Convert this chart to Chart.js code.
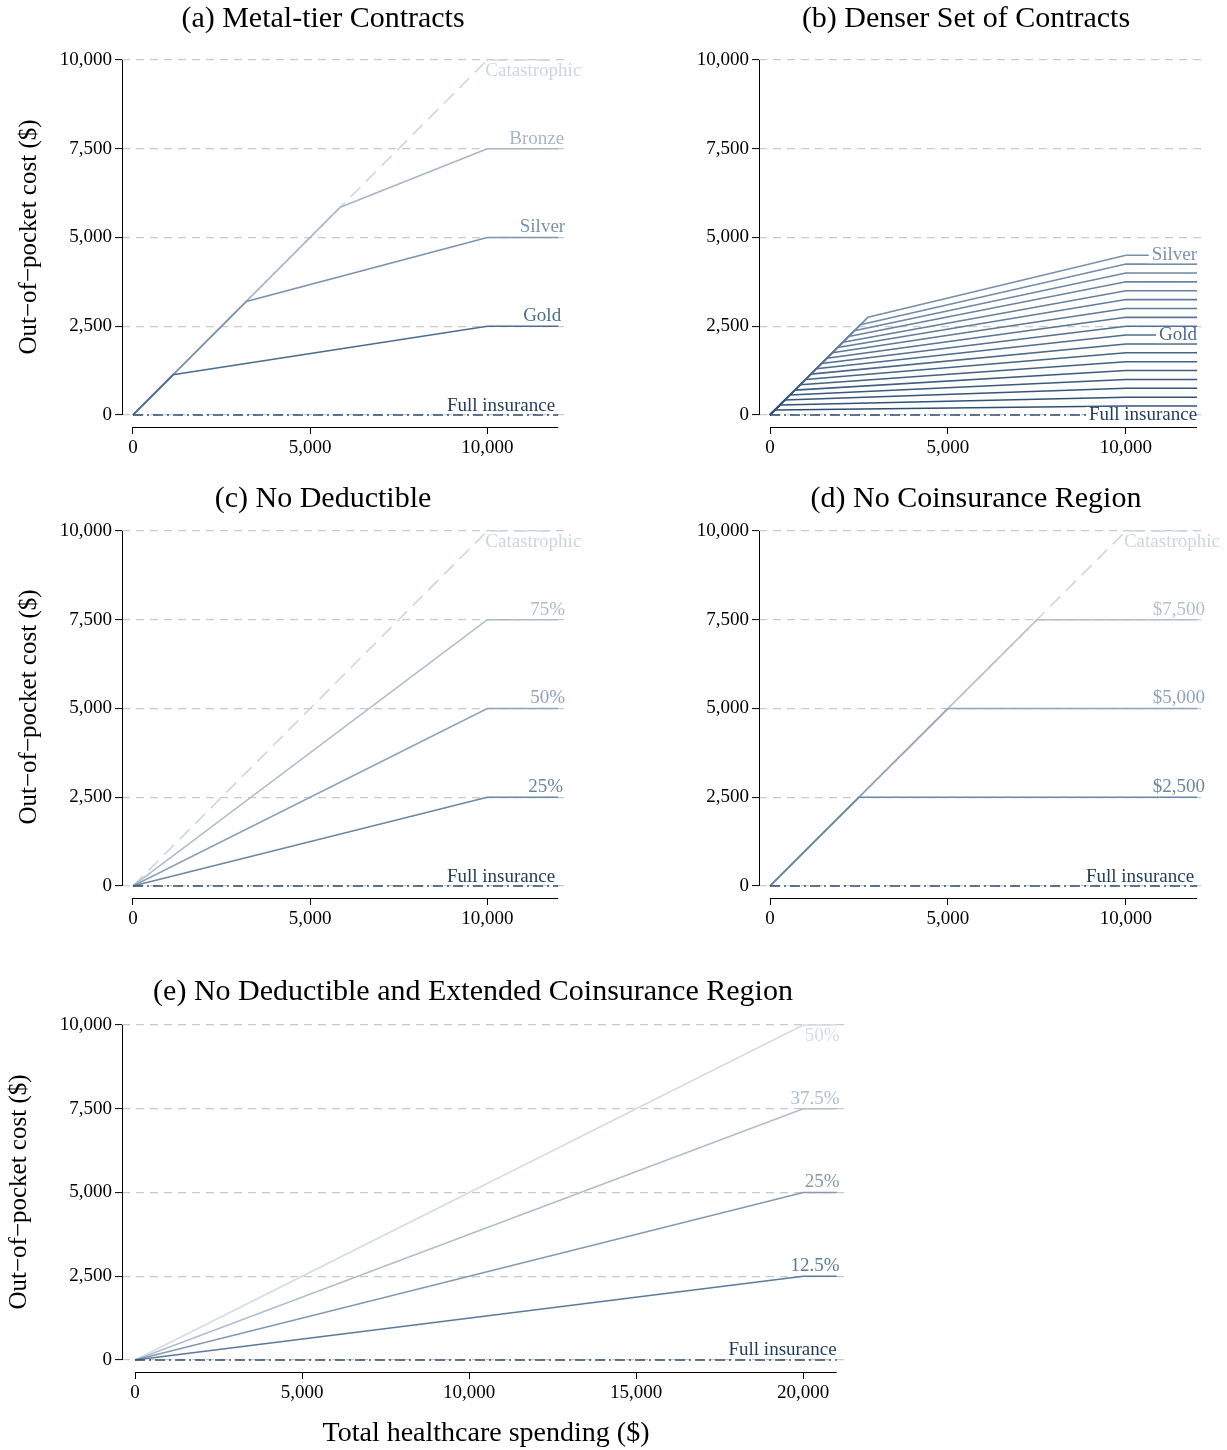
<!DOCTYPE html>
<html lang="en">
<head>
  <meta charset="UTF-8">
  <title>Out-of-pocket cost by contract design</title>
  <script src="https://cdn.jsdelivr.net/npm/chart.js"></script>
  <style>
    body { margin: 0; background: #fff; }
    .page { position: relative; width: 1227px; height: 1450px; overflow: hidden; }
    .page canvas { position: absolute; }
  </style>
</head>
<body>
  <div class="page">
    <canvas id="panelA" width="613" height="470" style="left:0;top:0"></canvas>
    <canvas id="panelB" width="614" height="470" style="left:613px;top:0"></canvas>
    <canvas id="panelC" width="613" height="470" style="left:0;top:470px"></canvas>
    <canvas id="panelD" width="614" height="470" style="left:613px;top:470px"></canvas>
    <canvas id="panelE" width="880" height="510" style="left:0;top:940px"></canvas>
  </div>
  <script>
    // axis ticks
    const yTicks = [0, 2500, 5000, 7500, 10000];
    const xTicks = [0, 5000, 10000];
    const xTicksWide = [0, 5000, 10000, 15000, 20000];

    // where the out-of-pocket cap is reached, and where the lines stop
    const capSpending = 10000;
    const capSpendingWide = 20000;
    const xEnd = 12000;
    const xEndWide = 21000;
    const catastrophicCap = 10000;

    // (a) metal tiers: deductible (kink) and out-of-pocket max
    const metalNames = ['Gold', 'Silver', 'Bronze'];
    const metalKinks = [1130, 3200, 5850];
    const metalCaps = [2500, 5000, 7500];

    // (b) denser set, lowest cap first
    const denseCaps = [250, 500, 750, 1000, 1250, 1500, 1750, 2000, 2250,
                       2500, 2750, 3000, 3250, 3500, 3750, 4000, 4250, 4500];
    const denseKinks = [140, 280, 420, 560, 700, 850, 1000, 1150, 1300,
                        1450, 1600, 1750, 1900, 2050, 2210, 2370, 2540, 2750];

    // (c) no deductible
    const coinsNames = ['25%', '50%', '75%'];
    const coinsCaps = [2500, 5000, 7500];

    // (d) no coinsurance region
    const oopNames = ['$2,500', '$5,000', '$7,500'];
    const oopCaps = [2500, 5000, 7500];

    // (e) no deductible, extended coinsurance region
    const extNames = ['12.5%', '25%', '37.5%', '50%'];
    const extCaps = [2500, 5000, 7500, 10000];

    const SERIF = '"Liberation Serif", "Times New Roman", serif';
    Chart.defaults.font.family = SERIF;
    Chart.defaults.color = '#000';

    const FULL = '#2c4c70';
    const CAT = '#cdd6df';

    function kinked(kink, cap, capAt, end) {
      return [{x: 0, y: 0}, {x: kink, y: kink}, {x: capAt, y: cap}, {x: end, y: cap}];
    }

    function lineSet(points, color, dash) {
      return {
        data: points,
        borderColor: color,
        borderWidth: 1.6,
        borderDash: dash || [],
        pointRadius: 0,
        tension: 0,
        clip: false
      };
    }

    function fullInsurance(end) {
      return lineSet([{x: 0, y: 0}, {x: end, y: 0}], FULL, [10, 4, 2, 4]);
    }

    function mix(c1, c2, t) {
      const a = c1.match(/\w\w/g).map(h => parseInt(h, 16));
      const b = c2.match(/\w\w/g).map(h => parseInt(h, 16));
      return 'rgb(' + a.map((v, i) => Math.round(v + (b[i] - v) * t)).join(',') + ')';
    }

    // axis lines, curve labels, titles
    const decor = {
      id: 'decor',
      afterDraw(chart, args, opts) {
        const {ctx, chartArea} = chart;
        const x = chart.scales.x, y = chart.scales.y;
        ctx.save();
        ctx.strokeStyle = '#000';
        ctx.lineWidth = 1;
        ctx.setLineDash([]);
        ctx.beginPath();
        const ax = Math.round(chartArea.left) + 0.5;
        ctx.moveTo(ax, y.getPixelForValue(10000));
        ctx.lineTo(ax, y.getPixelForValue(0));
        const ay = Math.round(chartArea.bottom) + 0.5;
        ctx.moveTo(x.getPixelForValue(0), ay);
        ctx.lineTo(x.getPixelForValue(opts.xEnd), ay);
        ctx.stroke();

        ctx.font = '19px ' + SERIF;
        ctx.textBaseline = 'middle';
        (opts.labels || []).forEach(l => {
          const px = x.getPixelForValue(l.x) + (l.dx || 0);
          const py = y.getPixelForValue(l.y) + (l.dy || 0);
          ctx.textAlign = l.align || 'right';
          if (l.bg) {
            const w = ctx.measureText(l.text).width;
            const left = l.align === 'left' ? px : px - w;
            ctx.fillStyle = '#fff';
            ctx.fillRect(left - 3, py - 8, w + 3, 16);
          }
          ctx.fillStyle = l.color;
          ctx.fillText(l.text, px, py);
        });

        ctx.fillStyle = '#000';
        ctx.textAlign = 'center';
        ctx.font = '30px ' + SERIF;
        ctx.fillText(opts.title, opts.titleX, opts.titleY);
        if (opts.yTitle) {
          ctx.save();
          ctx.translate(opts.yTitle[0], opts.yTitle[1]);
          ctx.rotate(-Math.PI / 2);
          ctx.font = '25px ' + SERIF;
          ctx.fillText('Out\u2212of\u2212pocket cost ($)', 0, 0);
          ctx.restore();
        }
        if (opts.xTitle) {
          ctx.font = '28px ' + SERIF;
          ctx.fillText('Total healthcare spending ($)', opts.xTitle[0], opts.xTitle[1]);
        }
        ctx.restore();
      }
    };

    function makePanel(id, p) {
      new Chart(document.getElementById(id), {
        type: 'line',
        data: {datasets: p.datasets},
        plugins: [decor],
        options: {
          responsive: false,
          animation: false,
          devicePixelRatio: 1,
          layout: {padding: {left: 0, top: p.top, right: p.right, bottom: 0}},
          plugins: {
            legend: {display: false},
            tooltip: {enabled: false},
            decor: p.decor
          },
          scales: {
            x: {
              type: 'linear',
              min: p.xMin,
              max: p.xMax,
              afterFit: s => { s.height = p.xHeight; },
              afterBuildTicks: s => { s.ticks = p.xTicks.map(v => ({value: v})); },
              border: {display: false},
              grid: {drawOnChartArea: false, drawTicks: true, tickLength: 7, tickColor: '#000', tickWidth: 1},
              ticks: {font: {size: 19}, color: '#000', padding: 3, maxRotation: 0,
                      callback: v => v.toLocaleString('en-US')}
            },
            y: {
              type: 'linear',
              min: p.yMin,
              max: 10000,
              afterFit: s => { s.width = p.yWidth; },
              afterBuildTicks: s => { s.ticks = yTicks.map(v => ({value: v})); },
              border: {display: false, dash: [8, 6]},
              grid: {color: '#c9c9c9', lineWidth: 1.2, drawTicks: true, tickLength: 7,
                     tickColor: '#000', tickWidth: 1, tickBorderDash: []},
              ticks: {font: {size: 19}, color: '#000', padding: 3,
                      callback: v => v.toLocaleString('en-US')}
            }
          }
        }
      });
    }

    const small = {xMin: -310, xMax: 12250, yMin: -340, xTicks: xTicks};

    // (a)
    const metalColors = ['#4d6d90', '#7b93ad', '#a6b6c7'];
    const metalDx = [3, 7, 6];
    makePanel('panelA', Object.assign({}, small, {
      top: 60, right: 46, yWidth: 122, xHeight: 43,
      datasets: [fullInsurance(xEnd)]
        .concat(metalNames.map((n, i) =>
          lineSet(kinked(metalKinks[i], metalCaps[i], capSpending, xEnd), metalColors[i])))
        .concat([lineSet(kinked(0, catastrophicCap, capSpending, xEnd), CAT, [14, 8])]),
      decor: {
        xEnd: xEnd, title: '(a) Metal-tier Contracts', titleX: 323, titleY: 19, yTitle: [29, 237],
        labels: metalNames.map((n, i) => ({text: n, x: xEnd, y: metalCaps[i], dx: metalDx[i], dy: -10, color: metalColors[i]}))
          .concat([
            {text: 'Catastrophic', x: capSpending, y: catastrophicCap, dx: -2, dy: 11, align: 'left', color: CAT},
            {text: 'Full insurance', x: xEnd, y: 0, dx: -3, dy: -9, color: '#1f3a5a'}
          ])
      }
    }));

    // (b)
    const denseColors = denseCaps.map((c, i) => mix('2c4e74', '7790ab', i / (denseCaps.length - 1)));
    makePanel('panelB', Object.assign({}, small, {
      top: 60, right: 21, yWidth: 146, xHeight: 43,
      datasets: [fullInsurance(xEnd)]
        .concat(denseCaps.map((c, i) => lineSet(kinked(denseKinks[i], c, capSpending, xEnd), denseColors[i]))),
      decor: {
        xEnd: xEnd, title: '(b) Denser Set of Contracts', titleX: 353, titleY: 19,
        labels: [
          {text: 'Silver', x: xEnd, y: 4500, dx: 0, dy: 0, bg: true, color: '#7d94ad'},
          {text: 'Gold', x: xEnd, y: 2250, dx: 0, dy: 0, bg: true, color: '#4a6a8d'},
          {text: 'Full insurance', x: xEnd, y: 0, dx: 0, dy: 0, bg: true, color: '#1f3a5a'}
        ]
      }
    }));

    // (c)
    const coinsColors = ['#6a86a3', '#8da2b8', '#adbccb'];
    makePanel('panelC', Object.assign({}, small, {
      top: 61, right: 46, yWidth: 122, xHeight: 42,
      datasets: [fullInsurance(xEnd)]
        .concat(coinsNames.map((n, i) => lineSet(kinked(0, coinsCaps[i], capSpending, xEnd), coinsColors[i])))
        .concat([lineSet(kinked(0, catastrophicCap, capSpending, xEnd), CAT, [14, 8])]),
      decor: {
        xEnd: xEnd, title: '(c) No Deductible', titleX: 323, titleY: 29, yTitle: [29, 237],
        labels: coinsNames.map((n, i) => ({text: n, x: xEnd, y: coinsCaps[i], dx: i === 0 ? 5 : 7, dy: -10, color: coinsColors[i]}))
          .concat([
            {text: 'Catastrophic', x: capSpending, y: catastrophicCap, dx: -2, dy: 11, align: 'left', color: CAT},
            {text: 'Full insurance', x: xEnd, y: 0, dx: -3, dy: -9, color: '#1f3a5a'}
          ])
      }
    }));

    // (d)
    const oopColors = ['#6a86a3', '#8fa4ba', '#b1c0cf'];
    makePanel('panelD', Object.assign({}, small, {
      top: 61, right: 21, yWidth: 146, xHeight: 42,
      datasets: [fullInsurance(xEnd)]
        .concat(oopNames.map((n, i) => lineSet([{x: 0, y: 0}, {x: oopCaps[i], y: oopCaps[i]}, {x: xEnd, y: oopCaps[i]}], oopColors[i])))
        .concat([lineSet(kinked(0, catastrophicCap, capSpending, xEnd), CAT, [14, 8])]),
      decor: {
        xEnd: xEnd, title: '(d) No Coinsurance Region', titleX: 363, titleY: 29,
        labels: oopNames.map((n, i) => ({text: n, x: xEnd, y: oopCaps[i], dx: 8, dy: -10, color: oopColors[i]}))
          .concat([
            {text: 'Catastrophic', x: capSpending, y: catastrophicCap, dx: -2, dy: 11, align: 'left', color: CAT},
            {text: 'Full insurance', x: xEnd, y: 0, dx: -3, dy: -9, color: '#1f3a5a'}
          ])
      }
    }));

    // (e)
    const extColors = ['#5b7a9b', '#8299b1', '#aebdcc', '#d3dbe3'];
    makePanel('panelE', {
      xMin: -390, xMax: 21250, yMin: -360, xTicks: xTicksWide,
      top: 85, right: 35, yWidth: 122, xHeight: 78,
      datasets: [fullInsurance(xEndWide)]
        .concat(extNames.map((n, i) => lineSet(kinked(0, extCaps[i], capSpendingWide, xEndWide), extColors[i]))),
      decor: {
        xEnd: xEndWide, title: '(e) No Deductible and Extended Coinsurance Region', titleX: 473, titleY: 52,
        yTitle: [19, 252], xTitle: [486, 494],
        labels: extNames.map((n, i) => ({text: n, x: xEndWide, y: extCaps[i], dx: 3, dy: i === 3 ? 11 : -10, color: extColors[i]}))
          .concat([{text: 'Full insurance', x: xEndWide, y: 0, dx: 0, dy: -10, color: '#1f3a5a'}])
      }
    });
  </script>
</body>
</html>
